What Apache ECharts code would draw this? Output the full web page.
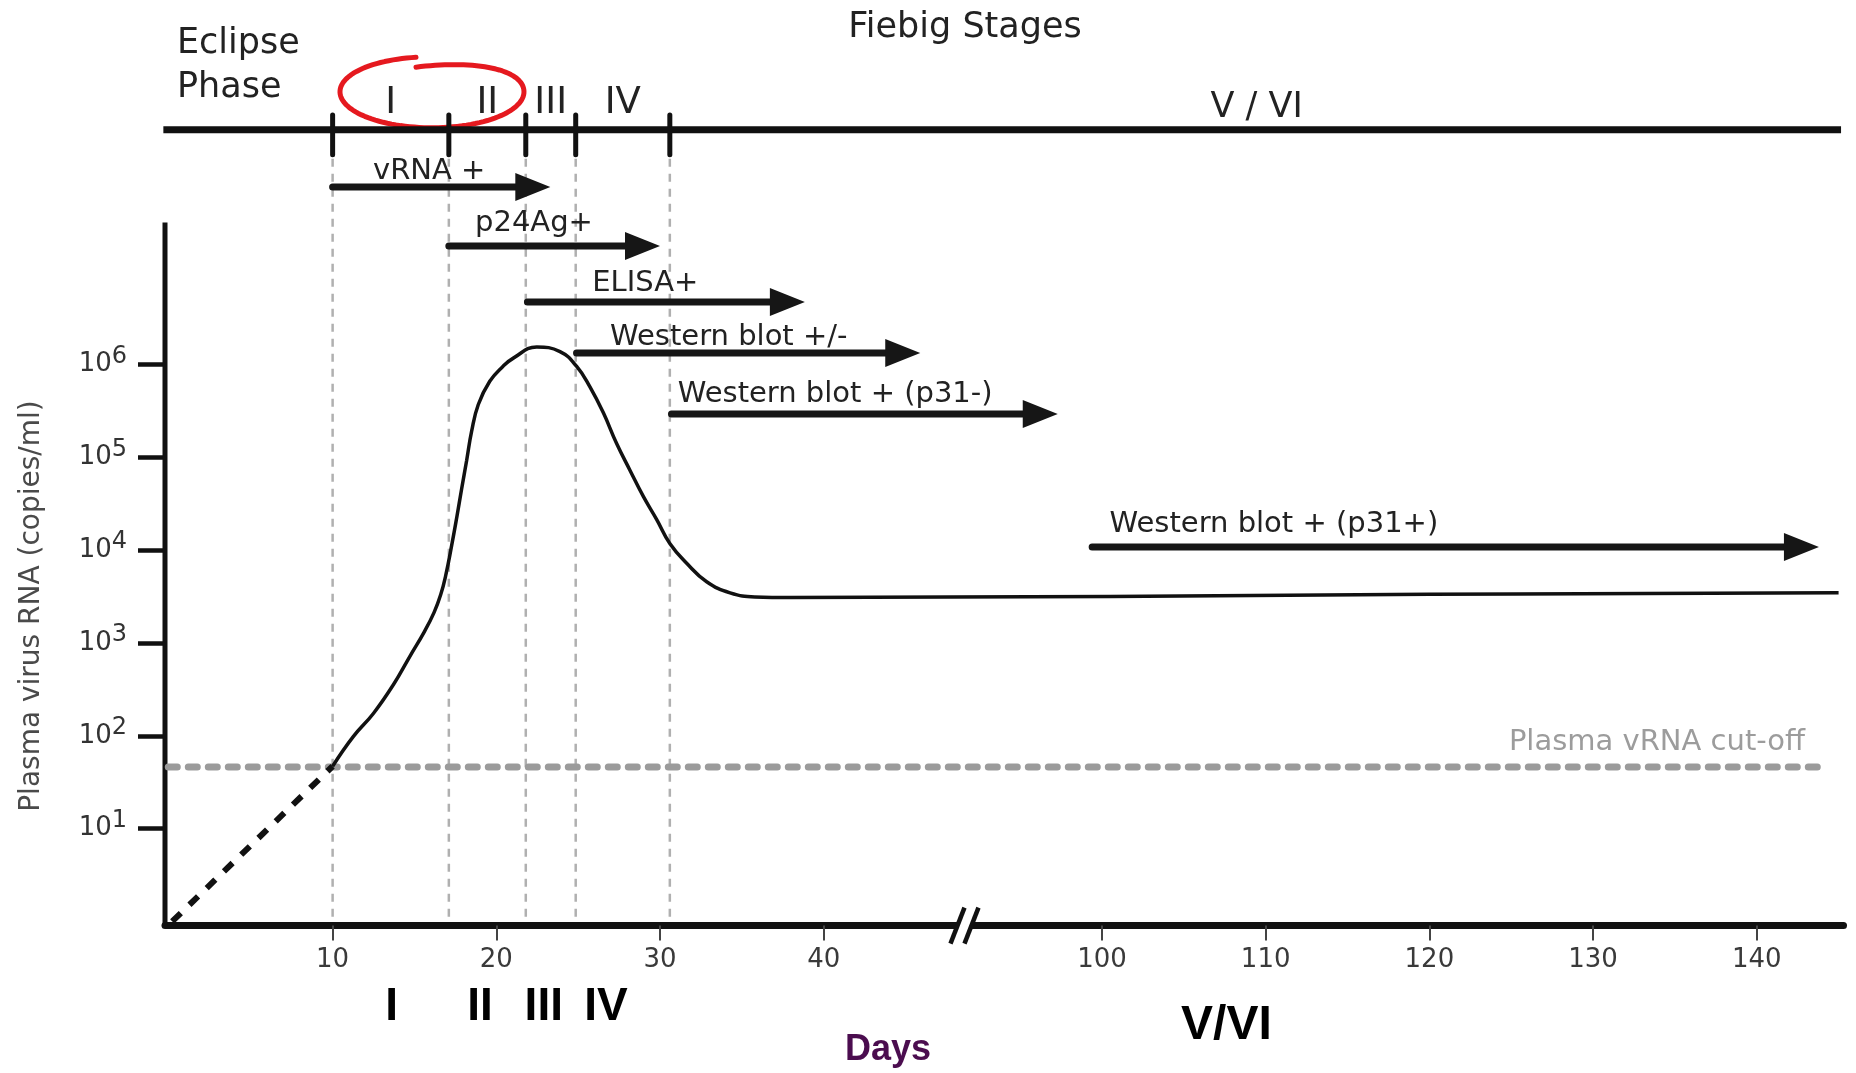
<!DOCTYPE html>
<html lang="en">
<head>
    <meta charset="UTF-8">
    <title>Fiebig Stages</title>
    <script src="https://cdn.jsdelivr.net/npm/echarts@6.0.0/dist/echarts.min.js"></script>
    <style>
        html, body { margin: 0; padding: 0; background: #fff; }
        #main { width: 1856px; height: 1073px; }
    </style>
</head>
<body>
    <div id="main"></div>
    <script type="text/javascript">
        // stages (days since infection)
        var stageNames = ['I', 'II', 'III', 'IV', 'V / VI'];
        var stageBounds = [10, 17.1, 21.8, 24.85, 30.6];
        var bottomStageNames = ['I', 'II', 'III', 'IV', 'V/VI'];
        var bottomStageDays = [13.6, 19.0, 22.9, 26.7, 107.6];

        // assay windows
        var assayNames = ['vRNA +', 'p24Ag+', 'ELISA+', 'Western blot +/-', 'Western blot + (p31-)', 'Western blot + (p31+)'];
        var assayStart = [10, 17.1, 21.9, 24.9, 30.7, 99.4];
        var assayEnd = [23.3, 30.0, 38.85, 45.9, 97.3, 143.8];
        var assayLabelDay = [15.9, 22.3, 29.1, 34.2, 40.7, 110.5];

        // plasma viral load (copies/ml)
        var loadDays = [10, 11.26, 12.49, 13.71, 14.73, 15.6, 16.2, 16.6, 16.9, 17.27, 17.58, 17.88, 18.19, 18.49, 18.9, 19.6,
            20.4, 21.04, 22.47, 23.89, 24.91, 25.72, 26.54, 27.35, 28.17, 28.98, 29.8, 30.61, 31.63, 32.85, 34.28, 35.8, 38, 120, 145];
        var loadCopies = [47, 98, 174, 355, 724, 1320, 2140, 3310, 5250, 11200, 22400, 45700, 93300, 190500, 371500, 661000,
            955000, 1175000, 1549000, 1380000, 955000, 575000, 302000, 141000, 72400, 38000, 21400, 11750, 7240, 4570, 3470, 3130, 3090, 3350, 3470];
        var eclipseDays = [0.2, 10];
        var eclipseCopies = [1, 47];
        var cutoffCopies = 46;

        var xTickDays = [10, 20, 30, 40, 100, 110, 120, 130, 140];
        var yTickPowers = [1, 2, 3, 4, 5, 6];

        // layout (x in plot days, y in log10 copies)
        var X_MIN = -0.24, X_MAX = 102.3, Y_MIN = -0.045, Y_MAX = 9.0;
        var BREAK_AT = 48.6, SKIP = 43;
        var Y_AXIS_TOP = 7.53;
        var STAGE_LINE = 8.53;
        var STAGE_TICK = [8.26, 8.69];
        var STAGE_LABEL_Y = [8.82, 8.82, 8.82, 8.82, 8.77];
        var ARROW_ROWS = [7.914, 7.278, 6.675, 6.125, 5.468, 4.035];
        var ARROW_LABEL_DY = [-16, -23, -18.5, -16, -20, -22];
        var LOOP_CENTER = [16.07, 8.94];
        var CUTOFF_END = 101.05, CUTOFF_LABEL_X = 99.95;

        var FONT = '"DejaVu Sans", sans-serif';
        var BOLD_FONT = '"Liberation Sans Narrow", "Liberation Sans", sans-serif';

        // axis break: days 48.6..91.6 are cut out
        function toU(d) {
            if (d <= BREAK_AT) return d;
            if (d >= BREAK_AT + SKIP) return d - SKIP;
            return BREAK_AT;
        }
        function toDay(u) {
            return u > BREAK_AT ? u + SKIP : u;
        }

        var myChart = echarts.init(document.getElementById('main'));

        var option = {
            animation: false,
            backgroundColor: '#fff',
            grid: { left: 165, right: 12.5, top: 86.2, bottom: 147.4, outerBoundsMode: 'none' },
            xAxis: {
                type: 'value',
                min: X_MIN,
                max: X_MAX,
                splitLine: { show: false },
                axisLine: { onZero: false, lineStyle: { color: '#111', width: 7 } },
                axisTick: {
                    customValues: xTickDays.map(toU),
                    length: 15,
                    lineStyle: { color: '#444', width: 2 }
                },
                axisLabel: {
                    customValues: xTickDays.map(toU),
                    margin: 22,
                    fontSize: 26,
                    fontFamily: FONT,
                    color: '#3a3a3a',
                    formatter: function (v) { return String(Math.round(toDay(v))); }
                }
            },
            yAxis: {
                type: 'value',
                min: Y_MIN,
                max: Y_MAX,
                splitLine: { show: false },
                axisLine: { show: false, onZero: false },
                axisTick: {
                    show: true,
                    customValues: yTickPowers,
                    length: 27,
                    lineStyle: { color: '#111', width: 4.5 }
                },
                axisLabel: {
                    customValues: yTickPowers,
                    margin: 38,
                    formatter: function (v) { return '{b|10}{s|' + v + '}'; },
                    rich: {
                        b: { fontSize: 26, fontFamily: FONT, color: '#333' },
                        s: { fontSize: 24, fontFamily: FONT, color: '#333', padding: [0, 0, 16, 0] }
                    }
                }
            },
            series: [
                // Fiebig stage line
                {
                    type: 'line',
                    data: [[X_MIN - 0.1, STAGE_LINE], [102.15, STAGE_LINE]],
                    symbol: 'none',
                    clip: false,
                    lineStyle: { color: '#111', width: 7 }
                },
                // y axis line
                {
                    type: 'line',
                    data: [[X_MIN, Y_MIN], [X_MIN, Y_AXIS_TOP]],
                    symbol: 'none',
                    clip: false,
                    lineStyle: { color: '#111', width: 5 }
                },
                // stage boundaries: dashed guides + ticks on the stage line
                {
                    type: 'custom',
                    data: stageBounds.map(function (d) { return [toU(d), STAGE_TICK[0]]; }),
                    renderItem: function (params, api) {
                        var x = api.value(0);
                        var a = api.coord([x, STAGE_TICK[0]]);
                        var b = api.coord([x, Y_MIN]);
                        var c = api.coord([x, STAGE_TICK[1]]);
                        return {
                            type: 'group',
                            children: [
                                { type: 'line', shape: { x1: a[0], y1: a[1] + 4, x2: b[0], y2: b[1] - 4 },
                                  style: { stroke: '#b0b0b0', lineWidth: 2.5, lineDash: [8, 7] } },
                                { type: 'line', shape: { x1: c[0], y1: c[1], x2: a[0], y2: a[1] },
                                  style: { stroke: '#111', lineWidth: 5, lineCap: 'round' } }
                            ]
                        };
                    }
                },
                // stage labels above the line
                {
                    type: 'custom',
                    data: stageNames.map(function (n, i) {
                        var from = toU(stageBounds[i]);
                        var to = i + 1 < stageBounds.length ? toU(stageBounds[i + 1]) : X_MAX;
                        return [(from + to) / 2, STAGE_LABEL_Y[i]];
                    }),
                    renderItem: function (params, api) {
                        var i = params.dataIndex;
                        var p = api.coord([api.value(0), api.value(1)]);
                        return {
                            type: 'text', x: p[0], y: p[1],
                            style: { text: stageNames[i], fontSize: i < 4 ? 37 : 35, fontFamily: FONT, fill: '#222',
                                     align: 'center', verticalAlign: 'middle' }
                        };
                    }
                },
                // plasma vRNA cut-off
                {
                    type: 'line',
                    data: [[X_MIN + 0.2, Math.log10(cutoffCopies)], [CUTOFF_END, Math.log10(cutoffCopies)]],
                    symbol: 'none',
                    clip: false,
                    lineStyle: { color: '#9b9b9b', width: 7, type: [9, 11], cap: 'round' }
                },
                {
                    type: 'custom',
                    data: [[CUTOFF_LABEL_X, Math.log10(cutoffCopies)]],
                    renderItem: function (params, api) {
                        var p = api.coord([api.value(0), api.value(1)]);
                        return {
                            type: 'text', x: p[0], y: p[1] - 25,
                            style: { text: 'Plasma vRNA cut-off', fontSize: 29, fontFamily: FONT, fill: '#9c9c9c',
                                     align: 'right', verticalAlign: 'middle' }
                        };
                    }
                },
                // eclipse phase extrapolation
                {
                    type: 'line',
                    data: eclipseDays.map(function (d, i) { return [toU(d), Math.log10(eclipseCopies[i])]; }),
                    symbol: 'none',
                    clip: false,
                    lineStyle: { color: '#111', width: 6, type: [12, 12] }
                },
                // viral load
                {
                    type: 'line',
                    data: loadDays.map(function (d, i) { return [toU(d), Math.log10(loadCopies[i])]; }),
                    symbol: 'none',
                    smooth: 0.45,
                    clip: false,
                    lineStyle: { color: '#111', width: 3.5 }
                },
                // assay arrows
                {
                    type: 'custom',
                    data: assayStart.map(function (s, i) { return [toU(s), toU(assayEnd[i]), toU(assayLabelDay[i])]; }),
                    renderItem: function (params, api) {
                        var i = params.dataIndex;
                        var row = ARROW_ROWS[i];
                        var p0 = api.coord([api.value(0), row]);
                        var p1 = api.coord([api.value(1), row]);
                        var pl = api.coord([api.value(2), row]);
                        var headLen = 35, headHalf = 14;
                        return {
                            type: 'group',
                            children: [
                                { type: 'line', shape: { x1: p0[0], y1: p0[1], x2: p1[0] - headLen + 2, y2: p1[1] },
                                  style: { stroke: '#161616', lineWidth: 7, lineCap: 'round' } },
                                { type: 'polygon',
                                  shape: { points: [[p1[0] - headLen, p1[1] - headHalf], [p1[0], p1[1]], [p1[0] - headLen, p1[1] + headHalf]] },
                                  style: { fill: '#161616' } },
                                { type: 'text', x: pl[0], y: pl[1] + ARROW_LABEL_DY[i],
                                  style: { text: assayNames[i], fontSize: 29, fontFamily: FONT, fill: '#222',
                                           align: 'center', verticalAlign: 'middle' } }
                            ]
                        };
                    }
                },
                // axis break mark
                {
                    type: 'custom',
                    data: [[BREAK_AT, Y_MIN]],
                    renderItem: function (params, api) {
                        var c = api.coord([api.value(0), api.value(1)]);
                        var cx = c[0], cy = c[1];
                        var c1 = cx - 7, c2 = cx + 7;
                        return {
                            type: 'group',
                            children: [
                                { type: 'polygon',
                                  shape: { points: [[c1 + 2, cy - 5], [c2 + 2, cy - 5], [c2 - 2, cy + 5], [c1 - 2, cy + 5]] },
                                  style: { fill: '#fff' } },
                                { type: 'line', shape: { x1: c1 - 7, y1: cy + 18, x2: c1 + 7, y2: cy - 18 },
                                  style: { stroke: '#111', lineWidth: 4.5 } },
                                { type: 'line', shape: { x1: c2 - 7, y1: cy + 18, x2: c2 + 7, y2: cy - 18 },
                                  style: { stroke: '#111', lineWidth: 4.5 } }
                            ]
                        };
                    }
                },
                // bold stage numerals under the axis
                {
                    type: 'custom',
                    data: bottomStageDays.map(function (d) { return [toU(d), Y_MIN]; }),
                    renderItem: function (params, api) {
                        var i = params.dataIndex;
                        var p = api.coord([api.value(0), api.value(1)]);
                        return {
                            type: 'text', x: p[0], y: p[1] + (i < 4 ? 82 : 100),
                            style: { text: bottomStageNames[i], fontSize: i < 4 ? 46 : 48, fontWeight: 'bold',
                                     fontFamily: BOLD_FONT, fill: '#000', align: 'center', verticalAlign: 'middle' }
                        };
                    }
                }
            ]
        };

        myChart.setOption(option);

        // hand-drawn red loop around stages I and II
        var lc = myChart.convertToPixel({ gridIndex: 0 }, LOOP_CENTER);
        var loopPts = [];
        for (var k = 0; k <= 120; k++) {
            var t = k / 120;
            var a = (-100 + 360 * t) * Math.PI / 180;
            var ry = t < 0.25 ? 25 + 11 * (t / 0.25) : (t > 0.75 ? 36 - (t - 0.75) * 4 : 36);
            loopPts.push([lc[0] + 92 * Math.cos(a), lc[1] + ry * Math.sin(a)]);
        }

        myChart.setOption({
            graphic: [
                { type: 'text', x: 965, y: 28,
                  style: { text: 'Fiebig Stages', fontSize: 35, fontFamily: FONT, fill: '#222', align: 'center', verticalAlign: 'middle' } },
                { type: 'text', x: 177, y: 22,
                  style: { text: 'Eclipse\nPhase', fontSize: 35, lineHeight: 44, fontFamily: FONT, fill: '#222', align: 'left', verticalAlign: 'top' } },
                { type: 'text', x: 32, y: 606, rotation: Math.PI / 2,
                  style: { text: 'Plasma virus RNA (copies/ml)', fontSize: 28, fontFamily: FONT, fill: '#4a4a4a', align: 'center', verticalAlign: 'middle' } },
                { type: 'text', x: 888, y: 1050,
                  style: { text: 'Days', fontSize: 36, fontWeight: 'bold', fontFamily: BOLD_FONT, fill: '#4b0d4f', align: 'center', verticalAlign: 'middle' } },
                { type: 'polyline', shape: { points: loopPts },
                  style: { stroke: '#e5191f', lineWidth: 5, fill: null, lineCap: 'round', lineJoin: 'round' } }
            ]
        });
    </script>
</body>
</html>
